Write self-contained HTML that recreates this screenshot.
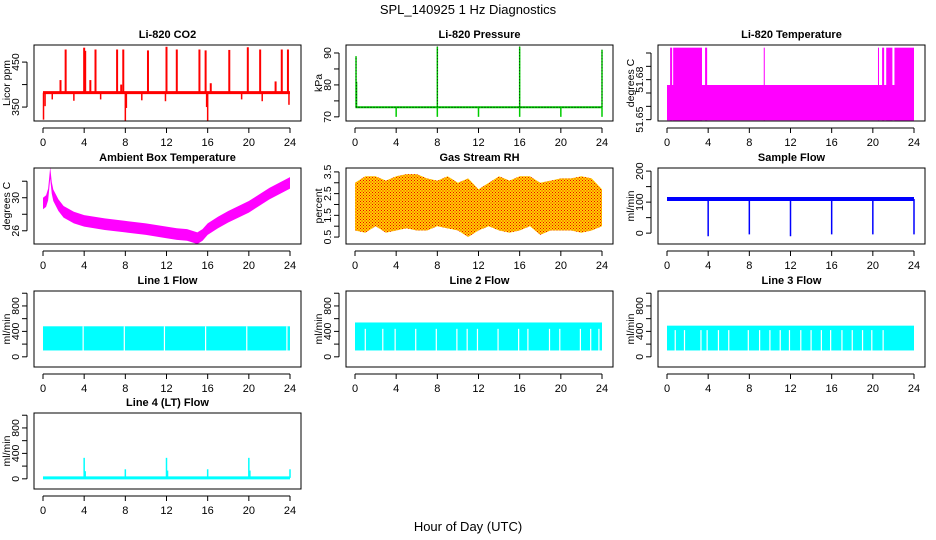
<!DOCTYPE html>
<html><head><meta charset="utf-8"><style>
body{margin:0;background:#fff;}
svg{display:block;font-family:"Liberation Sans",Arial,sans-serif;}
</style></head><body>
<svg id="c" width="936" height="540" viewBox="0 0 936 540">
<text x="468" y="14" text-anchor="middle" font-size="13">SPL_140925  1 Hz Diagnostics</text>
<text x="468" y="531" text-anchor="middle" font-size="13">Hour of Day (UTC)</text>
</svg>
<script>
// ---- data ----
const xTicks = [0,4,8,12,16,20,24];
const co2Base = 382;
const co2SpikeHours = [2.2,4,4.1,5.1,7.2,7.8,10.2,12,13,15.2,15.8,18.1,19.9,21.1,23.2,23.8,1.7,4.6,7.6,16.3,22.6];
const co2SpikeVals  = [478,482,475,478,478,478,476,484,478,478,476,477,483,478,478,478,410,410,400,403,407];
const co2DipHours = [0.05,0.2,0.9,3.0,5.6,8.0,8.1,9.6,11.9,15.9,16.0,19.3,21.3,23.9];
const co2DipVals  = [322,352,367,364,367,320,348,365,363,350,318,367,363,355];
const presBase = 73;
const presSpikeHours = [0.1,0.15,8,16,24];
const presSpikeVals  = [89,81,92,92,91];
const presDipHours = [4,8,12,16,20,24];
const presDipVals  = [70,70,70,70,70,70];
const tempLow = 51.676;
const tempHighStart = [0.3,0.6,3.7,9.4,20.5,20.9,21.3,22.1];
const tempHighEnd   = [0.5,3.4,3.9,9.5,20.6,21.1,21.9,24];
const tempHigh = 51.704;
const ambHours = [0,0.3,0.5,0.7,0.85,1,1.5,2,3,4,6,8,10,12,13,14,15,15.5,16,17,18,20,22,24];
const ambVals  = [29.3,29.6,30.4,33.0,31.2,30.3,29.1,28.3,27.6,27.2,26.8,26.5,26.2,25.8,25.6,25.5,25.1,25.5,26.2,27.0,27.7,28.9,30.5,31.8];
const rhHours = [0,1,2,3,4,5,6,7,8,9,10,11,12,13,14,15,16,17,18,19,20,21,22,23,24];
const rhHigh  = [3.0,3.3,3.3,3.1,3.3,3.4,3.4,3.2,3.1,3.3,3.0,3.2,2.7,3.0,3.3,3.1,3.3,3.3,3.0,3.1,3.2,3.2,3.3,3.2,2.7];
const rhLow   = [0.8,0.7,1.0,0.7,0.8,0.9,0.8,0.8,1.0,0.9,0.8,0.5,0.8,1.0,0.8,0.7,0.8,1.0,0.6,0.8,0.8,0.8,0.7,0.8,1.0];
const flowBase = 110;
const flowDipHours = [4,8,12,16,20,24];
const flowDipVals  = [-10,-4,-10,-4,-4,-4];
const l1Lo = 100, l1Hi = 480;
const l1GapHours = [3.9,7.9,11.8,15.8,19.8,23.7];
const l2Lo = 100, l2Hi = 540;
const l2GapHours = [1.0,2.7,3.9,5.9,7.9,9.9,10.9,11.9,13.9,15.9,16.8,18.9,19.9,21.9,22.9,23.7];
const l3Lo = 100, l3Hi = 490;
const l3GapHours = [0.8,1.7,3.3,3.9,5.0,6.0,7.9,9.0,10.0,11.0,11.9,13.0,14.0,15.0,15.9,17.0,18.0,19.0,19.9,21.0];
const l4Base = 15;
const l4SpikeHours = [4,4.1,8,12,12.1,16,20,20.1,24];
const l4SpikeVals  = [330,120,150,330,130,150,330,130,150];

// ---- layout helpers ----
const svg = document.getElementById('c');
const NS = 'http://www.w3.org/2000/svg';
function el(tag, attrs, parent){const e=document.createElementNS(NS,tag);for(const k in attrs)e.setAttribute(k,attrs[k]);(parent||svg).appendChild(e);return e;}
const colLeft=[34,346,658], rowTop=[45,168,291,413], W=267, H=76;

function panel(col,row,title,ylab,ymin,ymax,yt,ytl,name){
  const L=colLeft[col], T=rowTop[row];
  const g=el('g',{});
  
  
  const x=h=>L+9+h*(247/24);
  const y=v=>T+H-(v-ymin)/(ymax-ymin)*H;
  const plot=el('g',{},g);
  const t=el('text',{x:L+W/2,y:T-7,'text-anchor':'middle','font-size':11,'font-weight':'bold'},g);
  t.textContent=title;
  
  
  el('rect',{x:L,y:T,width:W,height:H,fill:'none',stroke:'#000','stroke-width':1},g);
  // x axis
  const xa=el('g',{},g);
  
  
  el('line',{x1:x(0),x2:x(24),y1:T+H+7,y2:T+H+7,stroke:'#000'},xa);
  xTicks.forEach(v=>{el('line',{x1:x(v),x2:x(v),y1:T+H+7,y2:T+H+12,stroke:'#000'},xa);
    const tt=el('text',{x:x(v),y:T+H+25,'text-anchor':'middle','font-size':11},xa);tt.textContent=v;});
  // y axis
  const ya=el('g',{},g);
  
  
  el('line',{x1:L-7,x2:L-7,y1:y(yt[0]),y2:y(yt[yt.length-1]),stroke:'#000'},ya);
  yt.forEach((v,i)=>{el('line',{x1:L-12,x2:L-7,y1:y(v),y2:y(v),stroke:'#000'},ya);
    if(ytl[i]!==''){const tt=el('text',{transform:`translate(${L-15},${y(v)}) rotate(-90)`,'text-anchor':'middle','font-size':10.5},ya);tt.textContent=ytl[i];}});
  const yl=el('text',{transform:`translate(${L-24},${T+H/2}) rotate(-90)`,'text-anchor':'middle','font-size':10.5},g);
  yl.textContent=ylab;
  
  
  return {x,y,plot};
}

// CO2
{const p=panel(0,0,'Li-820 CO2','Licor ppm',319,488,[350,400,450],['350','','450'],'co2-panel');
 co2SpikeHours.forEach((h,i)=>{const l=el('line',{x1:p.x(h),x2:p.x(h),y1:p.y(co2Base),y2:p.y(co2SpikeVals[i]),stroke:'#f00','stroke-width':2},p.plot);});
 co2DipHours.forEach((h,i)=>{const l=el('line',{x1:p.x(h),x2:p.x(h),y1:p.y(co2Base),y2:p.y(co2DipVals[i]),stroke:'#f00','stroke-width':1.5},p.plot);});
 const b=el('line',{x1:p.x(0),x2:p.x(24),y1:p.y(co2Base),y2:p.y(co2Base),stroke:'#f00','stroke-width':3},p.plot);
 }

// Pressure
{const p=panel(1,0,'Li-820 Pressure','kPa',68.7,92.5,[70,75,80,85,90],['70','','80','','90'],'pressure-panel');
 const b=el('line',{x1:p.x(0.05),x2:p.x(24),y1:p.y(presBase),y2:p.y(presBase),stroke:'#0c0','stroke-width':2},p.plot);
 
 el('line',{x1:p.x(0.05),x2:p.x(24),y1:p.y(presBase),y2:p.y(presBase),stroke:'#000','stroke-width':1,'stroke-dasharray':'1,2'},p.plot);
 presSpikeHours.forEach((h,i)=>{const l=el('line',{x1:p.x(h),x2:p.x(h),y1:p.y(presBase),y2:p.y(presSpikeVals[i]),stroke:'#0c0','stroke-width':1.5},p.plot);
  el('line',{x1:p.x(h),x2:p.x(h),y1:p.y(presBase),y2:p.y(presSpikeVals[i]),stroke:'#000','stroke-width':0.8,'stroke-dasharray':'1,2'},p.plot);});
 presDipHours.forEach((h,i)=>{const l=el('line',{x1:p.x(h),x2:p.x(h),y1:p.y(presBase),y2:p.y(presDipVals[i]),stroke:'#0c0','stroke-width':1.5},p.plot);});}

// Li temp
{const p=panel(2,0,'Li-820 Temperature','degrees C',51.649,51.706,[51.65,51.66,51.67,51.68,51.69,51.70],['51.65','','','51.68','',''],'li820-temp-panel');
 const r=el('rect',{x:p.x(0),y:p.y(tempLow),width:p.x(24)-p.x(0),height:p.y(51.6495)-p.y(tempLow),fill:'#f0f'},p.plot);
 
 tempHighStart.forEach((s,i)=>{const q=el('rect',{x:p.x(s),y:p.y(tempHigh),width:Math.max(1,p.x(tempHighEnd[i])-p.x(s)),height:p.y(51.6495)-p.y(tempHigh),fill:'#f0f'},p.plot);});}

// Ambient
{const p=panel(0,1,'Ambient Box Temperature','degrees C',24.4,33.6,[26,28,30,32],['26','','30',''],'ambient-temp-panel');
 const up=ambHours.map((h,i)=>p.x(h)+','+p.y(ambVals[i]+0.7));
 const dn=ambHours.map((h,i)=>p.x(h)+','+p.y(ambVals[i]-0.7)).reverse();
 const pg=el('polygon',{points:up.concat(dn).join(' '),fill:'#f0f'},p.plot);
 }

// RH
{const p=panel(1,1,'Gas Stream RH','percent',0.18,3.68,[0.5,1,1.5,2,2.5,3,3.5],['0.5','','1.5','','2.5','','3.5'],'rh-panel');
 const defs=el('defs',{});
 const pat=el('pattern',{id:'rhp',width:3,height:3,patternUnits:'userSpaceOnUse'},defs);
 el('rect',{width:3,height:3,fill:'#ffd000'},pat);
 el('rect',{x:0,y:0,width:1,height:1,fill:'#e00'},pat);
 el('rect',{x:1.5,y:1.5,width:1,height:1,fill:'#e00'},pat);
 const up=rhHours.map((h,i)=>p.x(h)+','+p.y(rhHigh[i]));
 const dn=rhHours.map((h,i)=>p.x(h)+','+p.y(rhLow[i])).reverse();
 const pg=el('polygon',{points:up.concat(dn).join(' '),fill:'url(#rhp)'},p.plot);
 }

// Sample flow
{const p=panel(2,1,'Sample Flow','ml/min',-35,210,[0,50,100,150,200],['0','','100','','200'],'sample-flow-panel');
 const b=el('line',{x1:p.x(0),x2:p.x(24),y1:p.y(flowBase),y2:p.y(flowBase),stroke:'#00f','stroke-width':4},p.plot);
 
 flowDipHours.forEach((h,i)=>{const l=el('line',{x1:p.x(h),x2:p.x(h),y1:p.y(flowBase),y2:p.y(flowDipVals[i]),stroke:'#00f','stroke-width':1.5},p.plot);});}

function flowPanel(col,row,title,lo,hi,gaps,gapTop,name){
  const p=panel(col,row,title,'ml/min',-160,1035,[0,200,400,600,800,1000],['0','','400','','800',''],name);
  const r=el('rect',{x:p.x(0),y:p.y(hi),width:p.x(24)-p.x(0),height:p.y(lo)-p.y(hi),fill:'#0ff'},p.plot);
  
  gaps.forEach(h=>{const l=el('line',{x1:p.x(h),x2:p.x(h),y1:p.y(gapTop),y2:p.y(lo)+1,stroke:'#fff','stroke-width':1.2},p.plot);});
  return p;
}
flowPanel(0,2,'Line 1 Flow',l1Lo,l1Hi,l1GapHours,l1Hi,'line1-flow-panel');
flowPanel(1,2,'Line 2 Flow',l2Lo,l2Hi,l2GapHours,440,'line2-flow-panel');
flowPanel(2,2,'Line 3 Flow',l3Lo,l3Hi,l3GapHours,420,'line3-flow-panel');

// Line 4
{const p=panel(0,3,'Line 4 (LT) Flow','ml/min',-160,1035,[0,200,400,600,800,1000],['0','','400','','800',''],'line4-flow-panel');
 const b=el('line',{x1:p.x(0),x2:p.x(24),y1:p.y(l4Base),y2:p.y(l4Base),stroke:'#0ff','stroke-width':3},p.plot);
 
 l4SpikeHours.forEach((h,i)=>{const l=el('line',{x1:p.x(h),x2:p.x(h),y1:p.y(l4Base),y2:p.y(l4SpikeVals[i]),stroke:'#0ff','stroke-width':1.5},p.plot);});}
</script>
</body></html>
